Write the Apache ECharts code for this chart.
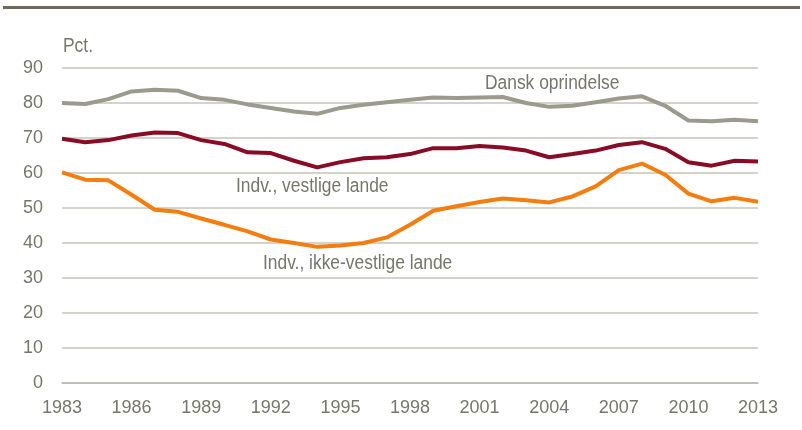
<!DOCTYPE html>
<html><head><meta charset="utf-8">
<script src="https://cdn.jsdelivr.net/npm/echarts@6/dist/echarts.min.js"></script>
<style>html,body{margin:0;padding:0;background:#fff}#c{width:802px;height:430px}</style>
</head><body><div id="c"></div>
<script>
const years = [];
for (let y = 1983; y <= 2013; y++) years.push(String(y));
const dansk = [80,79.7,81.1,83.3,83.8,83.5,81.4,80.9,79.6,78.6,77.6,76.9,78.6,79.5,80.2,80.9,81.6,81.4,81.6,81.7,80.0,78.9,79.2,80.2,81.3,81.9,79.2,75.0,74.8,75.2,74.8];
const vestlige = [69.8,68.8,69.4,70.7,71.6,71.4,69.4,68.3,65.9,65.7,63.5,61.6,63.1,64.2,64.5,65.4,67.1,67.1,67.7,67.3,66.4,64.5,65.4,66.4,68.0,68.8,66.9,63.1,62.1,63.5,63.3];
const ikkeVestlige = [60.2,58.1,57.9,53.8,49.5,48.9,47.0,45.2,43.3,41.0,40.0,38.9,39.3,40.0,41.6,45.2,49.2,50.5,51.7,52.7,52.2,51.6,53.3,56.2,60.8,62.7,59.5,54.1,51.9,52.9,51.8];
const yTicks = {min: 0, max: 90, interval: 10};
const labels = ['Dansk oprindelse', 'Indv., vestlige lande', 'Indv., ikke-vestlige lande'];

const FONT = '"Liberation Sans", Arial, sans-serif';
const TXT = '#77766a';
const chart = echarts.init(document.getElementById('c'));
const mk = (name, data, color) => ({
  name, type: 'line', data, symbol: 'none', smooth: false,
  lineStyle: {width: 4, color}, itemStyle: {color}
});
const txt = (text, x, y) => ({
  type: 'text', x, y, scaleX: 0.87,
  style: {text, fill: TXT, font: '20px ' + FONT, textVerticalAlign: 'middle'}
});
chart.setOption({
  animation: false,
  grid: {left: 62, right: 44, top: 68, bottom: 47},
  xAxis: {
    type: 'category', data: years, boundaryGap: false,
    axisLine: {show: true, lineStyle: {color: '#b9b8aa', width: 1.5}},
    axisTick: {show: false},
    axisLabel: {interval: 2, color: TXT, fontFamily: FONT, fontSize: 18, margin: 16}
  },
  yAxis: {
    type: 'value', min: yTicks.min, max: yTicks.max, interval: yTicks.interval,
    axisLine: {show: false}, axisTick: {show: false},
    splitLine: {lineStyle: {color: '#c6c5b8', width: 1.5}},
    axisLabel: {color: TXT, fontFamily: FONT, fontSize: 18, margin: 19}
  },
  series: [
    mk(labels[0], dansk, '#9b9a8c'),
    mk(labels[1], vestlige, '#880c25'),
    mk(labels[2], ikkeVestlige, '#f47d0f')
  ],
  graphic: [
    {type: 'rect', shape: {x: 3, y: 6, width: 797, height: 3}, style: {fill: '#6e6a58'}},
    txt('Pct.', 63, 46),
    txt(labels[0], 485, 83),
    txt(labels[1], 236, 186),
    txt(labels[2], 263, 263)
  ]
});
</script></body></html>
